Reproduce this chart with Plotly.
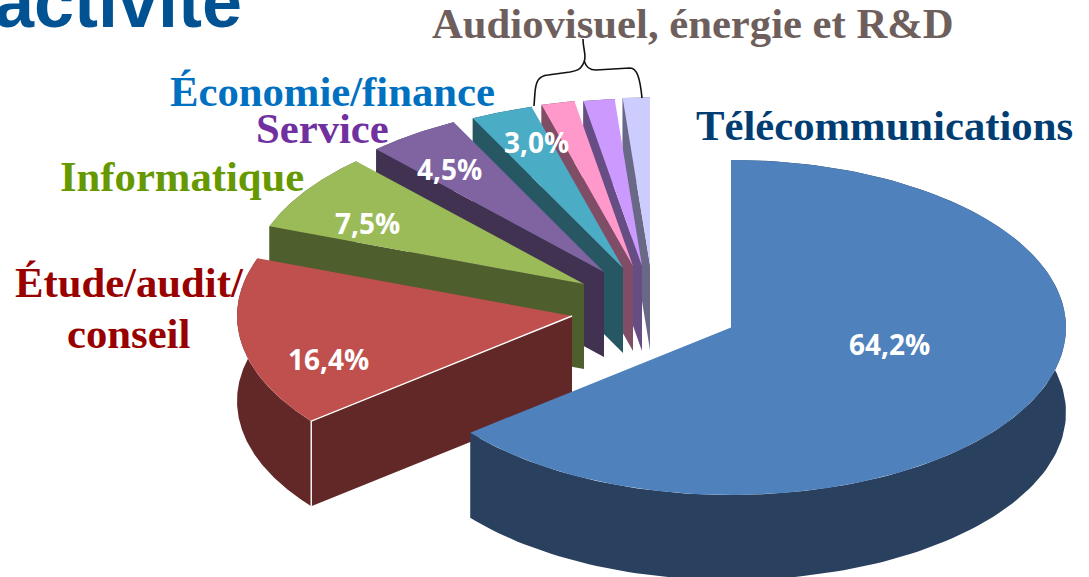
import math
import plotly.graph_objects as go

# Data (share of each slice, percent, in drawing order clockwise from 12 o'clock)
categories = ["Télécommunications", "Étude/audit/conseil", "Informatique", "Service",
              "Économie/finance", "Audiovisuel", "Énergie", "R&D"]
values = [64.2, 16.4, 7.5, 4.5, 3.0, 1.6, 1.5, 1.3]
value_labels = ["64,2%", "16,4%", "7,5%", "4,5%", "3,0%"]

# Styling / projection
top_colors = ["#4F81BD", "#C0504D", "#9BBB59", "#8064A2", "#4BACC6", "#FF99CC", "#CC99FF", "#CCCCFF"]
side_colors = ["#29415F", "#622827", "#4F5E2D", "#413252", "#265763", "#804D66", "#664E85", "#696987"]
apex_x = [731, 572, 584, 604, 623, 633, 642, 650]
apex_y = [327.5, 316, 284, 272, 268, 266, 266, 265]
RX, RY, DEPTH = 335, 167.5, 85
W, H = 1089, 577

fig = go.Figure()


def poly(xs, ys, color):
    fig.add_trace(go.Scatter(x=xs, y=ys, mode="lines", fill="toself", fillcolor=color,
                             line=dict(width=0, color=color), hoverinfo="skip", showlegend=False))


def arc(cx, cy, a0, a1, n=160):
    pts = [a0 + (a1 - a0) * i / n for i in range(n + 1)]
    return ([cx + RX * math.sin(math.radians(a)) for a in pts],
            [cy - RY * math.cos(math.radians(a)) for a in pts])


total = sum(values)
angles = [0]
for v in values:
    angles.append(angles[-1] + 360 * v / total)

# painter's order: the smallest back slices first, big front slice last
for i in reversed(range(len(values))):
    a0, a1 = angles[i], angles[i + 1]
    cx, cy = apex_x[i], apex_y[i]
    ax, ay = arc(cx, cy, a0, a1)
    # rim
    poly(ax + ax[::-1], ay + [y + DEPTH for y in ay[::-1]], side_colors[i])
    # cut face at the slice's start angle
    if i > 0:
        poly([cx, ax[0], ax[0], cx], [cy, ay[0], ay[0] + DEPTH, cy + DEPTH], side_colors[i])
    # top
    poly([cx] + ax + [cx], [cy] + ay + [cy], top_colors[i])
    if i == 1:
        fig.add_trace(go.Scatter(x=[cx, ax[0], ax[0]], y=[cy, ay[0], ay[0] + DEPTH], mode="lines",
                                 line=dict(width=1.4, color="white"), hoverinfo="skip", showlegend=False))

SERIF = "Liberation Serif"


def text(x, y, s, size, color, family=SERIF):
    fig.add_annotation(x=x, y=y, text="<b>" + s + "</b>", showarrow=False, xanchor="center", yanchor="middle",
                       font=dict(family=family, size=size, color=color))


text(118, 2, "activité", 72, "#005293", "Liberation Sans")
text(693, 23, "Audiovisuel, énergie et R&amp;D", 42.7, "#6E5F5C")
text(332, 91, "Économie/finance", 42.7, "#0070C0")
text(322, 128, "Service", 42.7, "#7030A0")
text(182, 176, "Informatique", 42.7, "#669900")
text(129, 282, "Étude/audit/", 42.7, "#990000")
text(128, 333, "conseil", 42.7, "#990000")
text(884, 125, "Télécommunications", 42.7, "#003D73")

for s, x, y in zip(value_labels, [889, 328, 367, 449, 536], [344, 359, 223, 169, 142]):
    text(x, y, s, 28, "white", "Open Sans")

# brace above the three small slices
brace = ("M 583 39 C 583 50 587 56 584 62 C 581 70 576 71 570 72 L 548 75 C 538 76 536 82 535 92 L 534 106 "
         "M 584 60 C 586 68 590 70 596 70 L 630 68 C 637 68 640 78 642 98")
fig.add_shape(type="path", path=brace, xref="x", yref="y", line=dict(color="#111111", width=1.6))

fig.update_layout(width=W, height=H, margin=dict(l=0, r=0, t=0, b=0),
                  paper_bgcolor="white", plot_bgcolor="white", showlegend=False,
                  xaxis=dict(range=[0, W], visible=False, fixedrange=True),
                  yaxis=dict(range=[H, 0], visible=False, fixedrange=True))

fig.write_html("out.html", config=dict(displayModeBar=False),
               post_script="document.body.style.margin='0';document.body.style.overflow='hidden';")
